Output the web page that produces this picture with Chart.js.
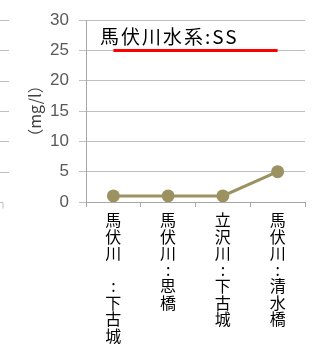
<!DOCTYPE html>
<html>
<head>
<meta charset="utf-8">
<script src="https://cdn.jsdelivr.net/npm/chart.js@4/dist/chart.umd.min.js"></script>
<style>
  html, body { margin: 0; padding: 0; background: #fff; }
  #grafico-wrap { width: 313px; height: 347px; }
</style>
</head>
<body>
<div id="grafico-wrap"><canvas id="grafico"></canvas></div>
<script>
// Dados do gráfico
const titulo = '馬伏川水系:SS';
const pontos = ['馬伏川　:下古城', '馬伏川:思橋', '立沢川:下古城', '馬伏川:清水橋'];
const valoresSS = [1, 1, 1, 5];
const valoresPadrao = [25, 25, 25, 25];
const ticksY = [0, 5, 10, 15, 20, 25, 30];
const tituloY = '（mg/l）';

// rótulos verticais: um caractere por linha
const rotulos = pontos.map(p => Array.from(p));

// título sobreposto ao gráfico + restos do gráfico vizinho à esquerda
const extras = {
  id: 'extras',
  afterDraw(chart) {
    const ctx = chart.ctx;
    const area = chart.chartArea;
    const y = chart.scales.y;
    ctx.save();
    ctx.strokeStyle = '#bfbfbf';
    ctx.lineWidth = 1;
    ticksY.forEach(v => {
      const py = Math.round(y.getPixelForValue(v)) + 0.5;
      ctx.beginPath();
      ctx.moveTo(0, py);
      ctx.lineTo(v === 0 ? 3 : 9, py);
      if (v === 0) ctx.lineTo(3, py + 6);
      ctx.stroke();
    });
    ctx.fillStyle = '#000';
    ctx.font = '19px "Noto Sans CJK JP"';
    ctx.textBaseline = 'alphabetic';
    ctx.letterSpacing = '2px';
    ctx.fillText(titulo, area.left + 14, area.top + 24);
    ctx.restore();
  }
};

new Chart(document.getElementById('grafico'), {
  type: 'line',
  data: {
    labels: rotulos,
    datasets: [
      {
        label: 'SS',
        data: valoresSS,
        borderColor: '#9c9161',
        backgroundColor: '#9c9161',
        borderWidth: 3,
        pointRadius: 5,
        pointHoverRadius: 5,
        tension: 0
      },
      {
        label: '基準',
        data: valoresPadrao,
        borderColor: '#ff0000',
        borderWidth: 3,
        pointRadius: 0,
        tension: 0
      }
    ]
  },
  options: {
    responsive: true,
    maintainAspectRatio: false,
    animation: false,
    layout: { padding: { top: 15, right: 4, left: 0, bottom: 0 } },
    scales: {
      x: {
        offset: true,
        grid: {
          offset: true,
          drawOnChartArea: false,
          drawTicks: true,
          tickLength: 5,
          color: '#a6a6a6'
        },
        border: { color: '#a6a6a6' },
        ticks: {
          autoSkip: false,
          maxRotation: 0,
          minRotation: 0,
          padding: 5,
          color: '#000',
          font: { family: '"Noto Sans CJK JP"', size: 16, lineHeight: 1.03 }
        },
        afterFit: s => { s.height = 145; }
      },
      y: {
        min: 0,
        max: 30,
        afterBuildTicks: s => { s.ticks = ticksY.map(v => ({ value: v })); },
        grid: { color: '#bfbfbf', tickLength: 7 },
        border: { color: '#a6a6a6' },
        ticks: {
          padding: 10,
          color: '#595959',
          font: { family: '"Liberation Sans"', size: 17 }
        },
        title: {
          display: true,
          text: tituloY,
          color: '#404040',
          font: { family: '"Noto Sans CJK JP"', size: 16 },
          padding: { top: 25, bottom: 0 }
        },
        afterFit: s => { s.width = 86; }
      }
    },
    plugins: {
      legend: { display: false },
      tooltip: { enabled: false }
    }
  },
  plugins: [extras]
});
</script>
</body>
</html>
